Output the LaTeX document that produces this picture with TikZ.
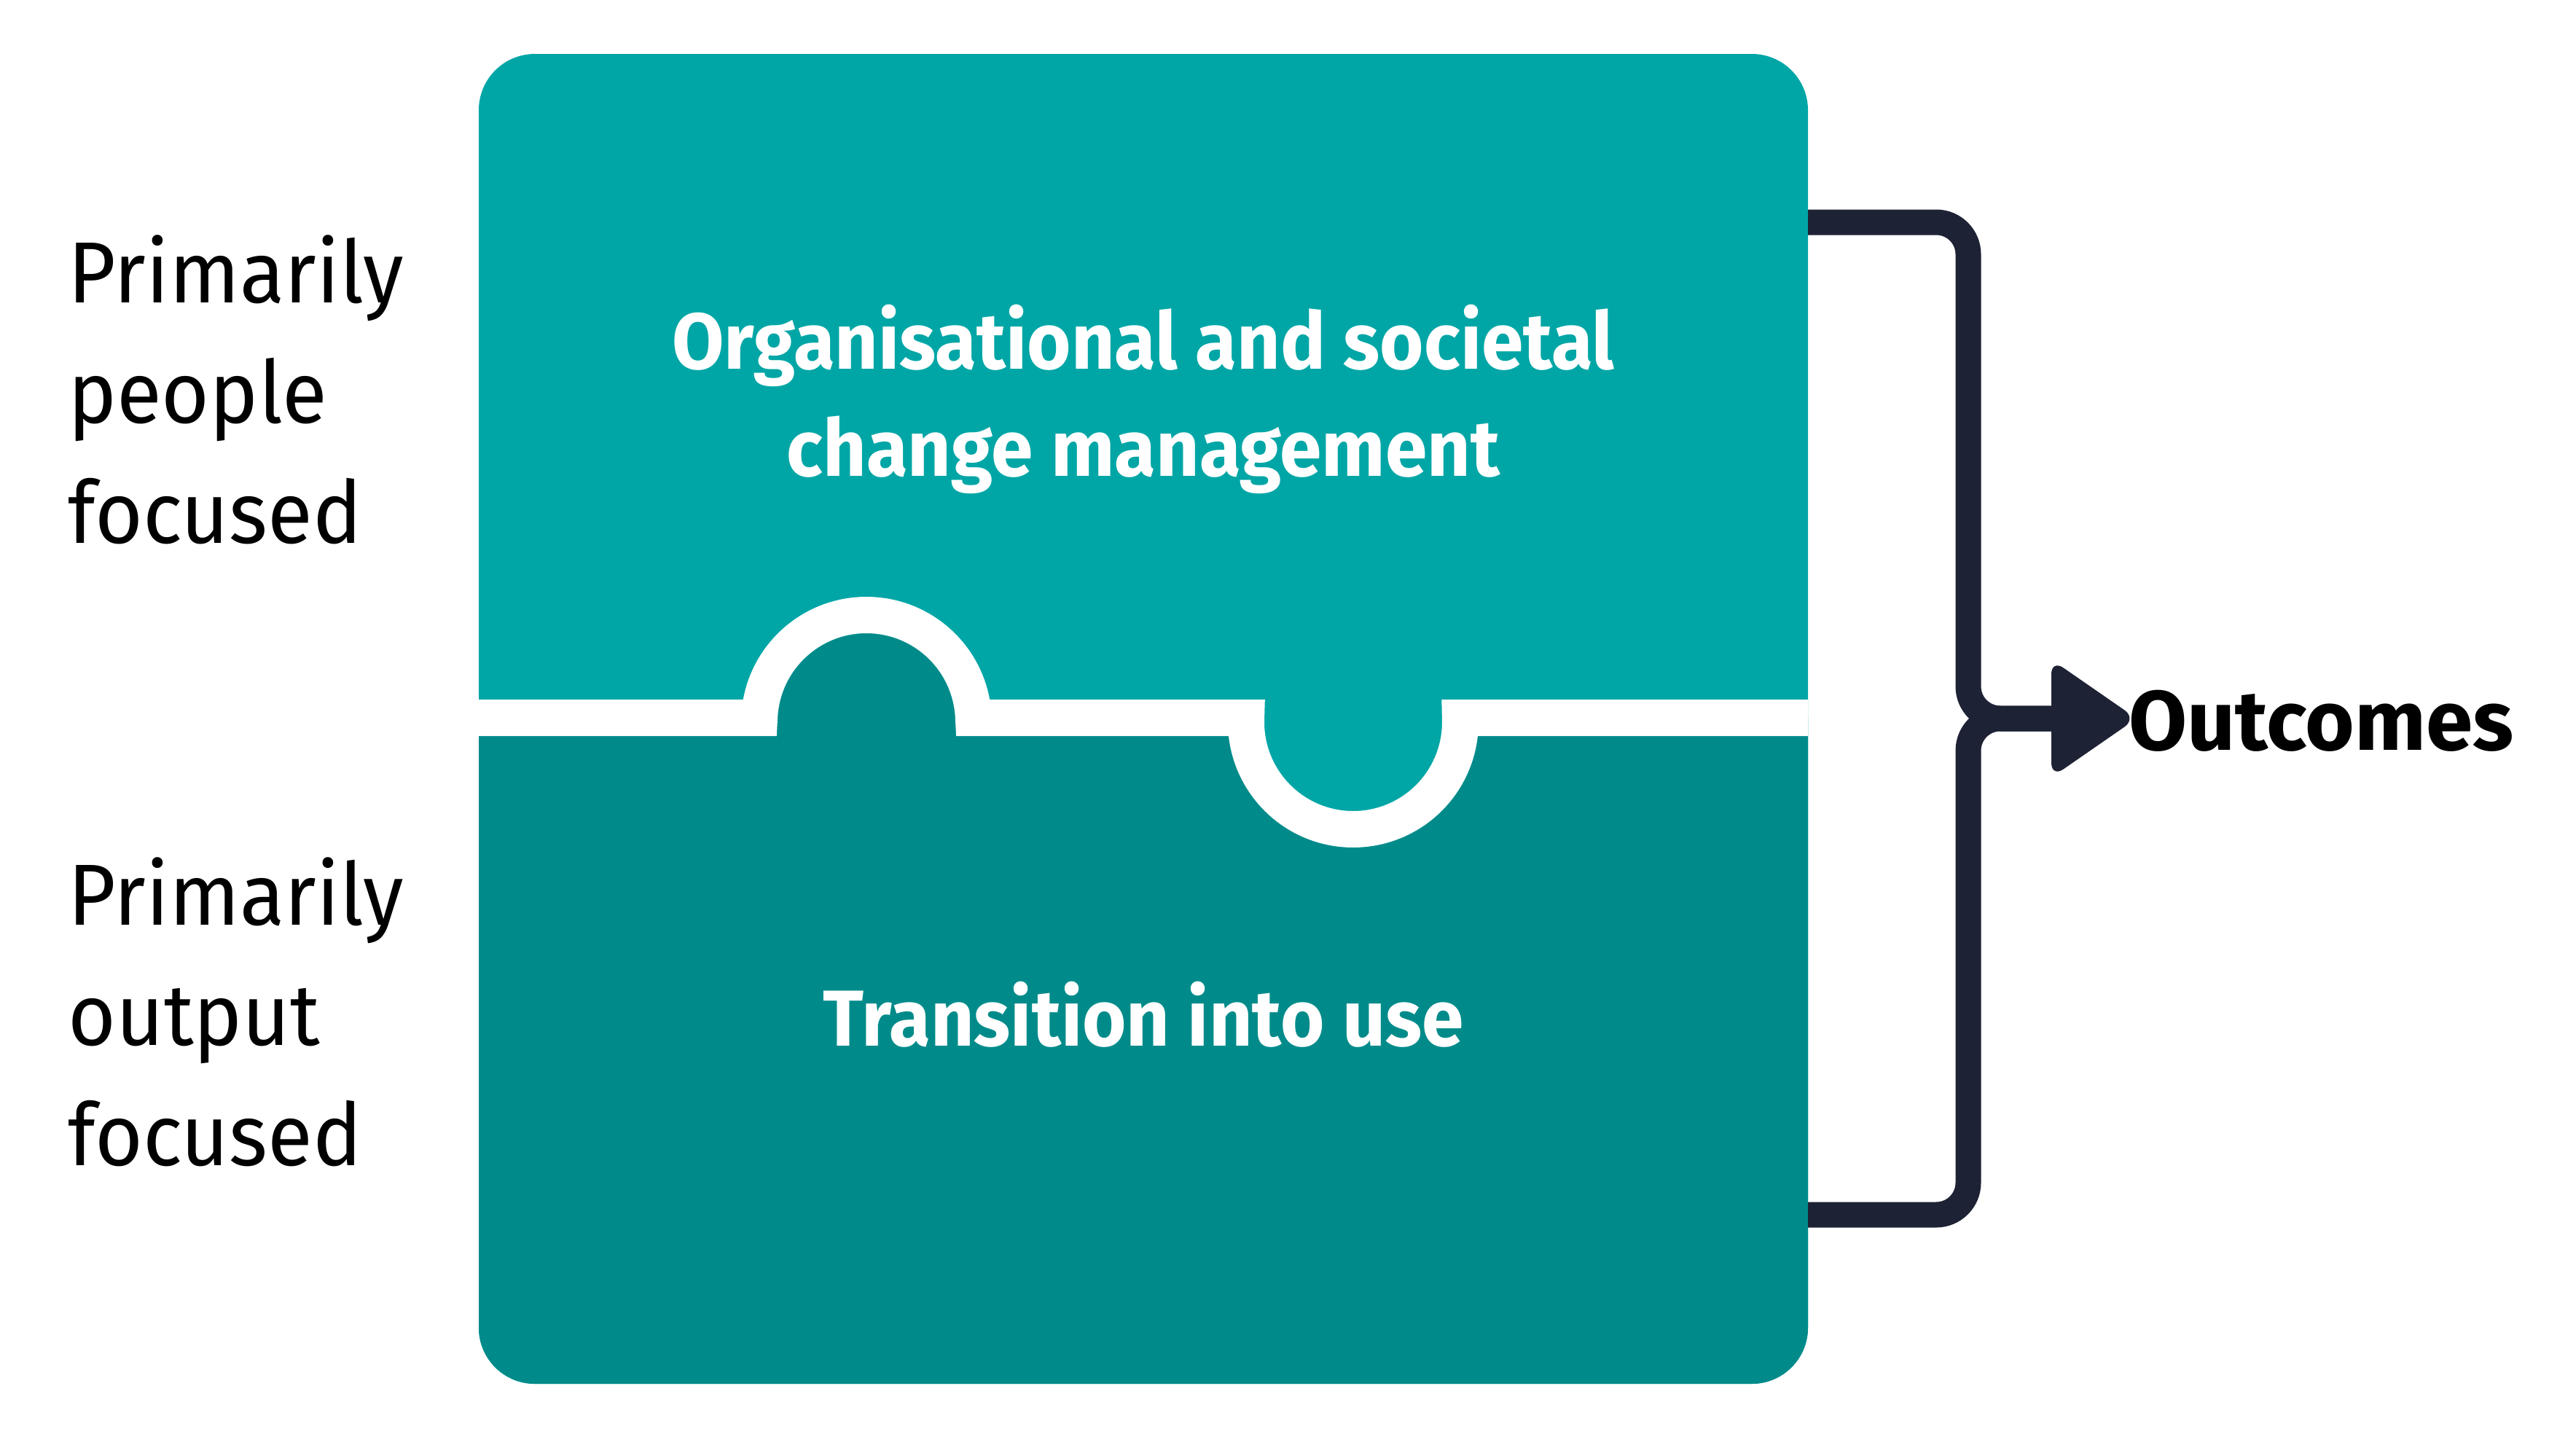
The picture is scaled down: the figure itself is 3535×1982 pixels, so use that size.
\documentclass[tikz,border=0pt]{standalone}
\usepackage{fontspec}
\setmainfont{Fira Sans}
\newfontfamily\titlefont{Fira Sans}[FakeStretch=0.95]
\newfontfamily\sidefont{Fira Sans}[FakeStretch=0.95]
\definecolor{topc}{HTML}{00A6A6}
\definecolor{botc}{HTML}{008B8A}
\definecolor{linec}{HTML}{1E2235}
\tikzset{
  sidelabel/.style={anchor=base west, inner sep=0pt, text=black, font=\sidefont\fontsize{119}{165}\selectfont},
  piecetitle/.style={anchor=base, inner sep=0pt, text=white, font=\titlefont\bfseries\fontsize{109}{147}\selectfont},
  outlabel/.style={anchor=base west, inner sep=0pt, text=black, font=\bfseries\fontsize{116}{140}\selectfont},
  conn/.style={draw=linec, line width=35pt, rounded corners=44pt},
  gapline/.style={draw=white, line width=50pt}
}
\begin{document}
\begin{tikzpicture}[x=1pt,y=-1pt]
\useasboundingbox (0,0) rectangle (3535,1982);
% puzzle pieces
\fill[topc, rounded corners=77pt] (657,74) rectangle (2481,1899);
\begin{scope}
  \clip[rounded corners=77pt] (657,74) rectangle (2481,1899);
  \fill[botc] (600,985) -- (1042.1,985)
     arc[start angle=182.34, end angle=357.66, radius=147]
     -- (1710.1,985)
     arc[start angle=182.34, end angle=-2.34, radius=147]
     -- (2550,985) -- (2550,1950) -- (600,1950) -- cycle;
  \draw[gapline] (600,985) -- (1042.1,985)
     arc[start angle=182.34, end angle=357.66, radius=147]
     -- (1710.1,985)
     arc[start angle=182.34, end angle=-2.34, radius=147]
     -- (2550,985);
\end{scope}
% texts
\node[piecetitle] (org) at (1569,506) {\begin{tabular}[t]{@{}c@{}}Organisational and societal\\change management\end{tabular}};
\node[piecetitle] (trans) at (1569,1435) {Transition into use};
\node[sidelabel] (people) at (93,415) {\begin{tabular}[t]{@{}l@{}}Primarily\\people\\focused\end{tabular}};
\node[sidelabel] (output) at (93,1269) {\begin{tabular}[t]{@{}l@{}}Primarily\\output\\focused\end{tabular}};
\node[outlabel] (outcomes) at (2921,1029) {Outcomes};
% connector
\coordinate (t1) at (2481,305);
\coordinate (b1) at (2481,1667);
\coordinate (j) at (2701,986);
\coordinate (ah) at (2816,986);
\draw[conn] (t1) -| (j) -- (ah);
\draw[conn] (b1) -| (j) -- (ah);
\fill[linec, rounded corners=20pt] (2815,905) -- (2932,986) -- (2815,1067) -- cycle;
\end{tikzpicture}
\end{document}
